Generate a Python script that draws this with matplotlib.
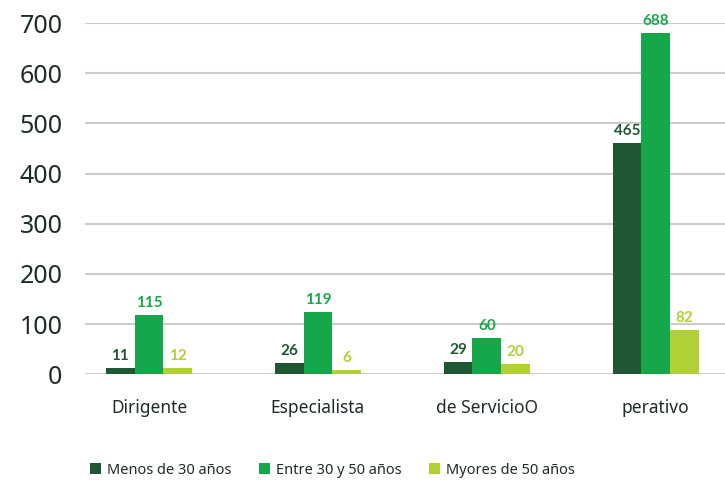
import matplotlib
matplotlib.use("Agg")
import matplotlib.pyplot as plt
import numpy as np

plt.rcParams['font.family'] = ['Noto Sans', 'DejaVu Sans']

categorias = ["Dirigente", "Especialista", "de ServicioO", "perativo"]
series = ["Menos de 30 años", "Entre 30 y 50 años", "Myores de 50 años"]
colores = ["#1f5733", "#16a74b", "#afd136"]

# alturas de barra como se ven en la imagen
menos30 = [12, 22, 24, 461]
entre30_50 = [118, 124, 72, 680]
mayores50 = [12, 8, 20, 88]
# etiquetas impresas sobre las barras
etq_menos30 = ["11", "26", "29", "465"]
etq_entre = ["115", "119", "60", "688"]
etq_mayores = ["12", "6", "20", "82"]

alturas = [menos30, entre30_50, mayores50]
etiquetas = [etq_menos30, etq_entre, etq_mayores]

fig = plt.figure(figsize=(7.25, 4.84), dpi=100)
ax = fig.add_axes([0.117, 0.227, 0.883, 0.725])

x = np.arange(len(categorias))
w = 0.17
for i in range(3):
    pos = x + (i - 1) * w
    ax.bar(pos, alturas[i], width=w, color=colores[i], label=series[i], zorder=3)
    for p, h, t in zip(pos, alturas[i], etiquetas[i]):
        ax.text(p, h + 10, t, ha='center', va='bottom', color=colores[i],
                fontsize=11, fontweight='bold', family=['Lato', 'DejaVu Sans'],
                clip_on=False)

ax.set_ylim(0, 700)
ax.set_xlim(-0.38, 3.41)
ax.set_yticks(range(0, 701, 100))
ax.yaxis.grid(True, color='#cccccc', linewidth=1.5, zorder=0)
ax.set_axisbelow(True)
for s in ax.spines.values():
    s.set_visible(False)
ax.tick_params(axis='both', length=0)
ax.tick_params(axis='y', labelsize=18, labelcolor='#1e2d24', pad=16)
ax.set_xticks(x)
ax.set_xticklabels(categorias, fontsize=12.5, color='#1e2d24')
ax.tick_params(axis='x', pad=18)

ax.legend(loc='upper left', bbox_to_anchor=(-0.012, -0.215), ncol=3, frameon=False,
          fontsize=10.5, handlelength=0.75, handleheight=0.75, columnspacing=1.9,
          handletextpad=0.4, labelcolor='#1e2d24')

fig.savefig("out.png", dpi=100)
